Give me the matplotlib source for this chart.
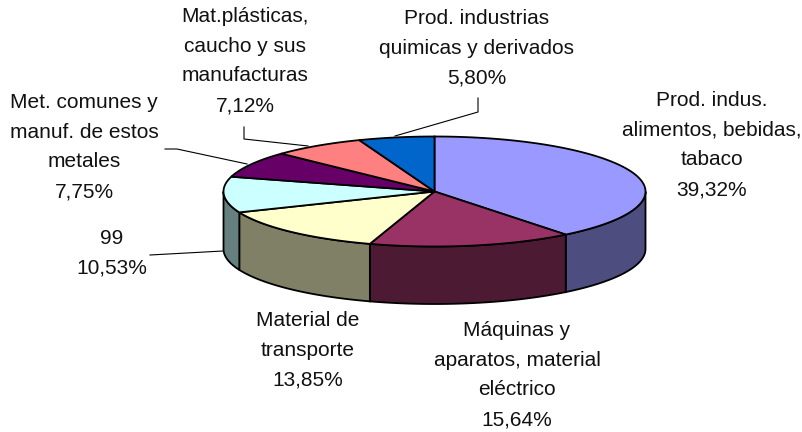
#!/usr/bin/env python3
import numpy as np
import matplotlib
matplotlib.use('Agg')
import matplotlib.pyplot as plt

values = [39.32, 15.64, 13.85, 10.53, 7.75, 7.12, 5.80]
value_labels = ['39,32%', '15,64%', '13,85%', '10,53%', '7,75%', '7,12%', '5,80%']
names = ['Prod. indus.\nalimentos, bebidas,\ntabaco',
         'Máquinas y\naparatos, material\neléctrico',
         'Material de\ntransporte',
         '99',
         'Met. comunes y\nmanuf. de estos\nmetales',
         'Mat.plásticas,\ncaucho y sus\nmanufacturas',
         'Prod. industrias\nquimicas y derivados']
top_colors = ['#9999FF', '#993366', '#FFFFCC', '#CCFFFF', '#660066', '#FF8080', '#0066CC']
side_colors = ['#4D4D80', '#4D1A33', '#808066', '#668080', '#330033', '#804040', '#003366']

# pie geometry in pixels
cx, cy = 434.5, 191.5
a, b = 211, 55
depth = 57.5

text_pos = [(712, 145), (517, 375), (308, 350), (112, 253), (84, 147), (245, 61), (477, 48)]
# leader lines: from label to slice edge
leaders = {3: [(150, 255), (223, 251)],
           4: [(165, 149), (177, 149), (247, 164)],
           5: [(244, 127), (244, 139), (308, 146)],
           6: [(478, 98), (478, 112), (395, 136)]}


def xy(theta):
    # theta clockwise from 12 o'clock, degrees
    t = np.radians(theta)
    return cx + a * np.sin(t), cy - b * np.cos(t)


fig = plt.figure(figsize=(8.03, 4.32), dpi=100)
ax = fig.add_axes([0, 0, 1, 1])
ax.set_xlim(0, 803)
ax.set_ylim(432, 0)
ax.axis('off')

edges = np.concatenate([[0], np.cumsum(values) / sum(values) * 360])

# rim first, only the front half is visible (90..270 deg)
for i in range(len(values)):
    lo, hi = max(edges[i], 90), min(edges[i + 1], 270)
    if hi <= lo:
        continue
    th = np.linspace(lo, hi, 80)
    x, y = xy(th)
    ax.fill(np.r_[x, x[::-1]], np.r_[y, y[::-1] + depth],
            fc=side_colors[i], ec='black', lw=1.3, zorder=2)

for i in range(len(values)):
    th = np.linspace(edges[i], edges[i + 1], 120)
    x, y = xy(th)
    ax.fill(np.r_[cx, x], np.r_[cy, y], fc=top_colors[i], ec='black', lw=1.3, zorder=3)

for i, (px, py) in enumerate(text_pos):
    ax.text(px, py, names[i] + '\n' + value_labels[i], ha='center', va='center',
            fontsize=15, family='Liberation Sans', color='#111111', linespacing=1.72)

for pts in leaders.values():
    ax.plot(*zip(*pts), color='black', lw=0.8, zorder=4)

fig.savefig('out.png', dpi=100)
